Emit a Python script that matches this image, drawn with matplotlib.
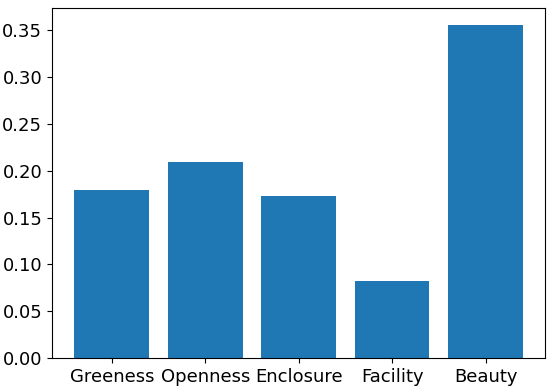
import matplotlib
matplotlib.use("Agg")
import matplotlib.pyplot as plt

categories = ["Greeness", "Openness", "Enclosure", "Facility", "Beauty"]
values = [0.180, 0.209, 0.173, 0.082, 0.356]

fig = plt.figure(figsize=(5.5, 3.9), dpi=100)
ax = fig.add_axes([0.0945, 0.082, 0.897, 0.897])
ax.bar(categories, values, color="#1f77b4")
ax.set_yticks([0.0, 0.05, 0.10, 0.15, 0.20, 0.25, 0.30, 0.35])
ax.set_yticklabels(["0.00", "0.05", "0.10", "0.15", "0.20", "0.25", "0.30", "0.35"])
ax.tick_params(labelsize=13)
fig.savefig("out.png", dpi=100)
